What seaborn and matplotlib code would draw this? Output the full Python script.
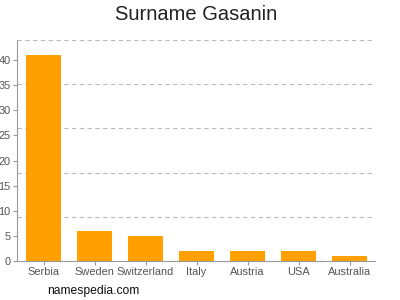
import matplotlib
matplotlib.use("Agg")
import matplotlib.pyplot as plt
import seaborn as sns
import pandas as pd

countries = ["Serbia", "Sweden", "Switzerland", "Italy", "Austria", "USA", "Australia"]
counts = [41, 6, 5, 2, 2, 2, 1]
yticks = [0, 5, 10, 15, 20, 25, 30, 35, 40]
grid_levels = [8.8, 17.6, 26.4, 35.2, 44]

sns.set_theme(style="white")
plt.rcParams['font.family'] = ['Liberation Sans', 'DejaVu Sans']

df = pd.DataFrame({"country": countries, "count": counts})

fig = plt.figure(figsize=(4, 3), dpi=100)
ax = fig.add_axes([0.0425, 0.13, 0.895, 0.7367])
sns.barplot(data=df, x="country", y="count", color="#FFA000", saturation=1,
            width=0.69, linewidth=0, ax=ax)

for g in grid_levels:
    ax.axhline(g, color="#bbbbbb", linestyle=(0, (4, 3)), linewidth=0.8, zorder=0)

ax.set_xlim(-0.52, 6.5)
ax.set_ylim(0, 44)
ax.set_yticks(yticks)
ax.set_xlabel("")
ax.set_ylabel("")
for s in ["top", "right"]:
    ax.spines[s].set_visible(False)
for s in ["left", "bottom"]:
    ax.spines[s].set_color("#999999")
    ax.spines[s].set_linewidth(0.8)
ax.tick_params(axis="both", colors="#999999", labelcolor="#555555", labelsize=7.9,
               length=3, width=0.8, pad=1.5, bottom=True, left=True)

fig.text(0.49, 0.95, "Surname Gasanin", ha="center", va="center", fontsize=14.5, color="#222222")
fig.text(0.118, 0.03, "namespedia.com", ha="left", va="center", fontsize=8.7, color="#111111")

fig.savefig("out.png", dpi=100)
